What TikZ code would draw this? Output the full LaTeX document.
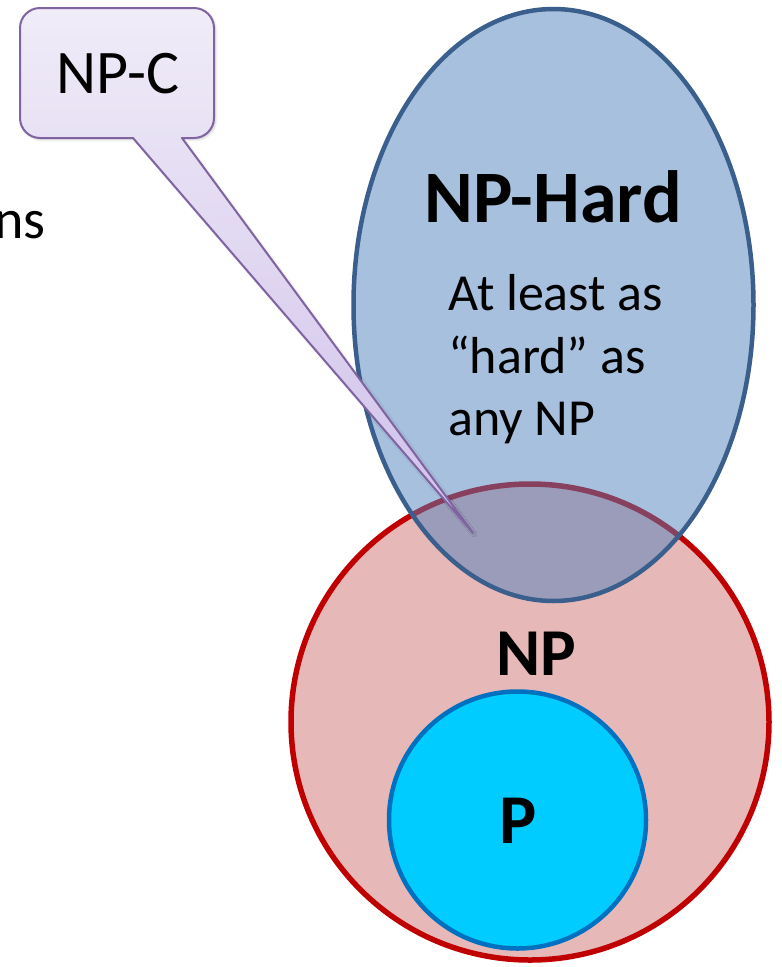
\documentclass[tikz,border=0pt]{standalone}
\usepackage{fontspec}
\setmainfont{Carlito}
\usetikzlibrary{shadows.blur}

\definecolor{npfill}{HTML}{E6B8B7}
\definecolor{npline}{HTML}{C00000}
\definecolor{pfill}{HTML}{00CCFF}
\definecolor{pline}{HTML}{0070C0}
\definecolor{hardfill}{HTML}{4F81BD}
\definecolor{hardline}{HTML}{3A5F8C}
\definecolor{calltop}{HTML}{F0ECF8}
\definecolor{callbot}{HTML}{CFC0EA}
\definecolor{callline}{HTML}{8064A2}

\tikzset{
  setring/.style={line width=#1},
  label/.style={inner sep=0pt, anchor=base, text=black},
}

\begin{document}
\begin{tikzpicture}[x=1pt, y=-1pt]
\useasboundingbox (0,0) rectangle (782,967);

% cut-off word on the left
\node[label, anchor=base west] (frag) at (-6,238) {\fontsize{56}{60}\selectfont ns};

% NP class
\draw[setring=5.5pt, draw=npline, fill=npfill] (530,722) ellipse [x radius=239, y radius=238];
% P class inside NP
\draw[setring=4.5pt, draw=pline, fill=pfill] (517.5,820) circle [radius=128.5];
% NP-Hard, translucent over NP
\fill[hardfill, fill opacity=0.5] (553.5,305) ellipse [x radius=200, y radius=296];
\draw[setring=4.5pt, draw=hardline] (553.5,305) ellipse [x radius=200, y radius=296];

% labels
\node[label] (hardtitle) at (553,222) {\fontsize{74}{80}\selectfont\bfseries NP-Hard};
\node[label, anchor=base west] (hard1) at (448,310) {\fontsize{52}{60}\selectfont At least as};
\node[label, anchor=base west] (hard2) at (448,373) {\fontsize{52}{60}\selectfont “hard” as};
\node[label, anchor=base west] (hard3) at (448,435) {\fontsize{52}{60}\selectfont any NP};
\node[label] (nplabel) at (536,675) {\fontsize{67}{70}\selectfont\bfseries NP};
\node[label] (plabel) at (518,843) {\fontsize{70}{74}\selectfont\bfseries P};

% NP-C callout pointing into the overlap
\coordinate (tip) at (473,533);
\path[draw=callline, line width=2pt, line join=round, top color=calltop, bottom color=callbot,
      blur shadow={shadow xshift=1.5pt, shadow yshift=-1.5pt, shadow blur radius=2.5pt, shadow opacity=22}]
  (40,8) -- (194,8) .. controls (205,8) and (214,17) .. (214,28)
  -- (214,118) .. controls (214,129) and (205,138) .. (194,138)
  -- (182,138) -- (tip) -- (133,138)
  -- (40,138) .. controls (29,138) and (20,129) .. (20,118)
  -- (20,28) .. controls (20,17) and (29,8) .. (40,8) -- cycle;
\node[label] (npc) at (118,93) {\fontsize{62}{66}\selectfont NP-C};
\end{tikzpicture}
\end{document}
